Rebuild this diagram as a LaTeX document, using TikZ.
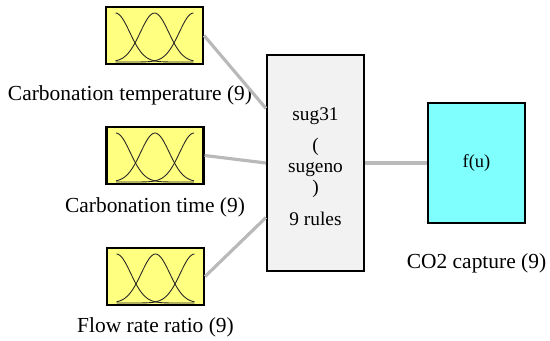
\documentclass[tikz,border=0pt]{standalone}
\usepackage{fontspec}
\setmainfont{Liberation Serif}
\usepackage{tikz}
\usetikzlibrary{positioning, calc}
\definecolor{mfyellow}{RGB}{255, 255, 128}
\definecolor{outcyan}{RGB}{128, 255, 255}
\definecolor{rulegray}{RGB}{242, 242, 242}
\definecolor{wiregray}{RGB}{185, 185, 185}

\begin{document}
\begin{tikzpicture}[
  every node/.style={font=\fontsize{12.2}{14}\selectfont},
  mfbox/.style={draw, fill=mfyellow, line width=1.2pt, minimum width=1.94cm, minimum height=1.14cm, inner sep=0pt},
  fisbox/.style={draw, line width=1.2pt, minimum width=1.94cm, inner sep=0pt, font=\fontsize{11}{12}\selectfont},
  varname/.style={inner sep=0pt},
  mf/.style={line width=0.5pt, black!85},
  wire/.style={wiregray, line width=1.8pt}
]
\useasboundingbox (0,0) rectangle (11,6.82);

% Inputs
\node[mfbox] (ctemp) at (3.09,6.11) {};
\node[varname] (ctemplbl) at (2.6,4.92) {Carbonation temperature (9)};
\node[mfbox] (ctime) at (3.1,3.71) {};
\node[varname] (ctimelbl) at (3.1,2.67) {Carbonation time (9)};
\node[mfbox] (flow) at (3.11,1.29) {};
\node[varname] (flowlbl) at (3.11,0.28) {Flow rate ratio (9)};

% Membership functions
\foreach \inp in {ctemp, ctime, flow}{
  \begin{scope}[shift={(\inp.center)}]
    \foreach \mu in {-0.78, 0, 0.78}
      \draw[mf] plot[domain=-0.78:0.78, samples=45] (\x, {-0.53+0.98*exp(-(\x-(\mu))*(\x-(\mu))/0.161)});
  \end{scope}
}

% Rule engine
\node[fisbox, fill=rulegray, minimum height=4.32cm] (engine) at (6.31,3.56) {};
\node[varname, font=\fontsize{11}{12}\selectfont, align=center] (enginetxt) at (6.31,3.49)
  {sug31\\[6pt] (\\ sugeno\\ )\\[6pt] 9 rules};
\coordinate (in1) at ($(engine.north west)!0.25!(engine.south west)$);
\coordinate (in2) at ($(engine.north west)!0.5!(engine.south west)$);
\coordinate (in3) at ($(engine.north west)!0.75!(engine.south west)$);

% Output
\node[fisbox, fill=outcyan, minimum height=2.4cm, font=\fontsize{10.5}{12}\selectfont] (out) at (9.53,3.56) {f(u)};
\node[varname] (outlbl) at (9.53,1.56) {CO2 capture (9)};

% Connections
\draw[wire] (ctemp.east) -- (in1);
\draw[wire] (ctime.east) -- (in2);
\draw[wire] (flow.east) -- (in3);
\draw[wire] (engine.east) -- (out.west);

\end{tikzpicture}
\end{document}
